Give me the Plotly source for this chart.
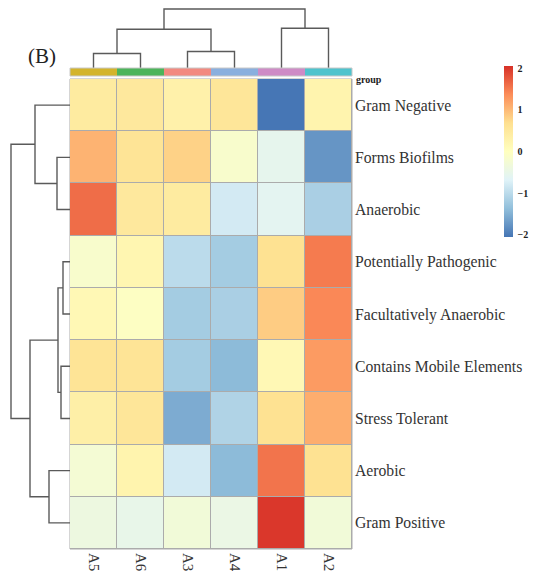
import plotly.graph_objects as go

# ---------------- data ----------------
columns = ["A5", "A6", "A3", "A4", "A1", "A2"]
rows = ["Gram Negative", "Forms Biofilms", "Anaerobic", "Potentially Pathogenic",
        "Facultatively Anaerobic", "Contains Mobile Elements", "Stress Tolerant",
        "Aerobic", "Gram Positive"]

gram_negative = [0.45, 0.50, 0.30, 0.55, -2.04, 0.25]
forms_biofilms = [1.05, 0.60, 0.80, -0.15, -0.55, -1.75]
anaerobic = [1.60, 0.50, 0.45, -0.80, -0.60, -1.15]
potentially_pathogenic = [-0.15, 0.20, -1.00, -1.20, 0.65, 1.50]
facultatively_anaerobic = [0.15, -0.05, -1.20, -1.15, 0.85, 1.40]
contains_mobile_elements = [0.60, 0.60, -1.20, -1.40, 0.15, 1.25]
stress_tolerant = [0.35, 0.55, -1.55, -1.10, 0.65, 1.10]
aerobic = [-0.25, 0.25, -0.80, -1.40, 1.55, 0.65]
gram_positive = [-0.40, -0.50, -0.30, -0.45, 2.00, -0.30]

z_values = [gram_negative, forms_biofilms, anaerobic, potentially_pathogenic,
            facultatively_anaerobic, contains_mobile_elements, stress_tolerant,
            aerobic, gram_positive]

group_colors = ["#D3B42C", "#4CB45B", "#F28A80", "#8AAFDE", "#CE8BC6", "#4EC3CD"]

# dendrogram merges (left id, right id, height); leaves are 0..n-1, new clusters numbered after
col_merges = [(0, 1, 15), (2, 3, 17), (6, 7, 40), (4, 5, 41), (8, 9, 61)]
row_merges = [(3, 4, 7), (5, 6, 9), (9, 10, 12), (1, 2, 13), (7, 8, 21),
              (0, 12, 35), (11, 13, 40), (14, 15, 59)]

colorbar_ticks = [-2, -1, 0, 1, 2]

# ---------------- helpers ----------------
OFF = 8  # page body margin
W, H = 539 - OFF, 571 - OFF
def px_x(p):
    return min(1.0, max(0.0, (p - OFF) / W))
def px_y(p):
    return min(1.0, max(0.0, 1 - (p - OFF) / H))

def dendro_lines(n_leaves, merges):
    pos = {i: float(i) for i in range(n_leaves)}
    hgt = {i: 0.0 for i in range(n_leaves)}
    xs, hs = [], []
    nid = n_leaves
    for a, b, h in merges:
        xs += [pos[a], pos[a], pos[b], pos[b], None]
        hs += [hgt[a], h, h, hgt[b], None]
        pos[nid] = (pos[a] + pos[b]) / 2
        hgt[nid] = h
        nid += 1
    return xs, hs

serif = "Liberation Serif"
line_col = "#5a5a5a"

colorscale = [[0.0, "#4575B4"], [1/6, "#91BFDB"], [2/6, "#E0F3F8"], [3/6, "#FFFFBF"],
              [4/6, "#FEE090"], [5/6, "#FC8D59"], [1.0, "#D73027"]]

fig = go.Figure()

# main heatmap
fig.add_trace(go.Heatmap(
    z=z_values, x=list(range(len(columns))), y=list(range(len(rows))),
    colorscale=colorscale, zmin=-2.05, zmax=2.05, xgap=1, ygap=1,
    xaxis="x", yaxis="y",
    colorbar=dict(
        x=px_x(504), xanchor="left", y=px_y(66), yanchor="top",
        len=(237 - 66) / H, lenmode="fraction", thickness=9, thicknessmode="pixels",
        outlinewidth=0, tickvals=colorbar_ticks, ticks="outside", ticklen=3,
        tickcolor="rgba(0,0,0,0)", xpad=0, ypad=0,
        tickfont=dict(family=serif, size=10, color="#222", weight="bold"),
    ),
    hoverinfo="skip",
))

# group annotation bar
n = len(columns)
grp_scale = []
for i, c in enumerate(group_colors):
    grp_scale.append([i / n, c])
    grp_scale.append([(i + 1) / n, c])
fig.add_trace(go.Heatmap(
    z=[list(range(n))], x=list(range(n)), y=[0],
    colorscale=grp_scale, zmin=-0.5, zmax=n - 0.5, showscale=False,
    xaxis="x2", yaxis="y2", hoverinfo="skip",
))

# column dendrogram
cx, ch = dendro_lines(len(columns), col_merges)
fig.add_trace(go.Scatter(x=cx, y=ch, mode="lines", line=dict(color=line_col, width=1.4),
                         xaxis="x3", yaxis="y3", hoverinfo="skip", showlegend=False))

# row dendrogram
ry, rh = dendro_lines(len(rows), row_merges)
fig.add_trace(go.Scatter(x=rh, y=ry, mode="lines", line=dict(color=line_col, width=1.4),
                         xaxis="x4", yaxis="y4", hoverinfo="skip", showlegend=False))

hm_x = [px_x(70), px_x(352)]
hm_y = [px_y(549), px_y(79)]

fig.update_layout(
    width=W, height=H, margin=dict(l=0, r=0, t=0, b=0),
    paper_bgcolor="white", plot_bgcolor="white", showlegend=False,
    xaxis=dict(domain=hm_x, range=[-0.5, n - 0.5], tickmode="array",
               tickvals=list(range(n)), ticktext=columns, tickangle=90, ticks="",
               showgrid=False, zeroline=False, showline=False, ticklabelstandoff=3,
               tickfont=dict(family=serif, size=15, color="#333")),
    yaxis=dict(domain=hm_y, range=[len(rows) - 0.5, -0.5], side="right", anchor="x",
               tickmode="array", tickvals=list(range(len(rows))), ticktext=rows,
               ticks="", showgrid=False, zeroline=False, showline=False, ticklabelstandoff=2,
               tickfont=dict(family=serif, size=15.7, color="#333")),
    xaxis2=dict(domain=hm_x, range=[-0.5, n - 0.5], anchor="y2", visible=False),
    yaxis2=dict(domain=[px_y(76), px_y(68)], range=[-0.5, 0.5], anchor="x2", visible=False),
    xaxis3=dict(domain=hm_x, range=[-0.5, n - 0.5], anchor="y3", visible=False),
    yaxis3=dict(domain=[px_y(68), px_y(8)], range=[0, 62], anchor="x3", visible=False),
    xaxis4=dict(domain=[px_x(9), px_x(70)], range=[61, 0], anchor="y4", visible=False),
    yaxis4=dict(domain=hm_y, range=[len(rows) - 0.5, -0.5], anchor="x4", visible=False),
    shapes=[
        dict(type="rect", xref="x domain", yref="y domain", x0=0, x1=1, y0=0, y1=1,
             fillcolor="#ABABAB", line=dict(color="#ABABAB", width=1), layer="below"),
        dict(type="rect", xref="x2 domain", yref="y2 domain", x0=0, x1=1, y0=0, y1=1,
             fillcolor="rgba(0,0,0,0)", line=dict(color="#C8C8C8", width=1), layer="above"),
    ],
    annotations=[
        dict(text="(B)", x=px_x(26), y=px_y(42), xref="paper", yref="paper",
             showarrow=False, font=dict(family=serif, size=21, color="#222")),
        dict(text="<b>group</b>", x=px_x(354), y=px_y(72), xref="paper", yref="paper",
             xanchor="left", showarrow=False, font=dict(family=serif, size=10, color="#222")),
    ],
)

fig.write_html("out.html")
